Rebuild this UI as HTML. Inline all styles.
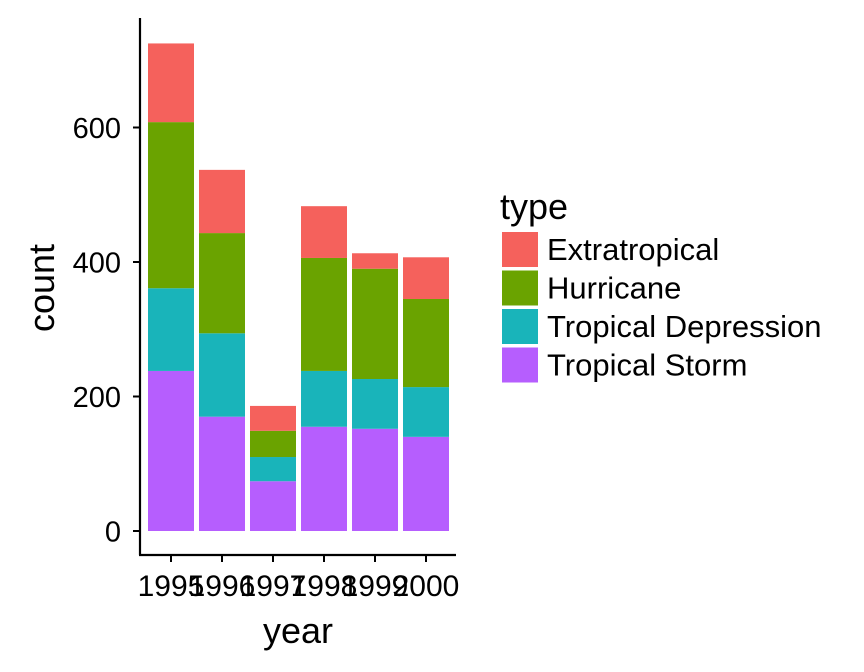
<!DOCTYPE html>
<html><head><meta charset="utf-8"><style>
body{margin:0;background:#fff}
svg{display:block;font-family:"Liberation Sans",Arial,sans-serif}
</style></head><body>
<svg id="chart" width="864" height="672" viewBox="0 0 864 672">
<g id="bars"></g>
<g id="axes"></g>
<g id="legend"></g>
</svg>
<script>
const years = ["1995","1996","1997","1998","1999","2000"];
const types = ["Extratropical","Hurricane","Tropical Depression","Tropical Storm"];
const colors = ["#F5615C","#6AA300","#19B4BA","#B65EFE"];
const stormVals = [238,170,74,155,152,140];
const depressionVals = [123,124,36,83,74,74];
const hurricaneVals = [247,149,39,168,164,131];
const extraVals = [117,94,37,77,23,62];
const yTicks = [0,200,400,600];

const NS="http://www.w3.org/2000/svg";
function mk(tag,attrs,parent,text){const e=document.createElementNS(NS,tag);for(const k in attrs)e.setAttribute(k,attrs[k]);if(text!==undefined)e.textContent=text;parent.appendChild(e);return e;}
const y0=531, pxPer=134.5/200;
const yScale=v=>y0-v*pxPer;
const bandStep=51, bandStart=171, barW=46;
const xScale=i=>bandStart+i*bandStep;

const bars=document.getElementById('bars');
const stackOrder=[[stormVals,3],[depressionVals,2],[hurricaneVals,1],[extraVals,0]];
years.forEach((yr,i)=>{
  let cum=0;
  stackOrder.forEach(([arr,ci])=>{
    const v=arr[i];
    const r=mk('rect',{x:xScale(i)-barW/2,y:yScale(cum+v),width:barW,height:v*pxPer,fill:colors[ci]},bars);
    
    
    cum+=v;
  });
});

const ax=document.getElementById('axes');
let l=mk('line',{x1:140,y1:18,x2:140,y2:555,stroke:'#000','stroke-width':2.2},ax);

l=mk('line',{x1:139,y1:555,x2:456,y2:555,stroke:'#000','stroke-width':2.2},ax);

yTicks.forEach(t=>{
  const y=yScale(t);
  mk('line',{x1:133,y1:y,x2:140,y2:y,stroke:'#000','stroke-width':2},ax);
  const tx=mk('text',{x:121,y:y+10.5,'text-anchor':'end','font-size':29,fill:'#000'},ax,String(t));
  
});
years.forEach((yr,i)=>{
  const x=xScale(i);
  mk('line',{x1:x,y1:555,x2:x,y2:562,stroke:'#000','stroke-width':2},ax);
  const tx=mk('text',{x:x,y:596,'text-anchor':'middle','font-size':30,fill:'#000'},ax,yr);
  
});
let t=mk('text',{x:298,y:643,'text-anchor':'middle','font-size':36,fill:'#000'},ax,'year');

t=mk('text',{x:0,y:0,'text-anchor':'middle','font-size':36,fill:'#000',transform:'translate(54,288) rotate(-90)'},ax,'count');


const lg=document.getElementById('legend');
t=mk('text',{x:500,y:219,'font-size':36,fill:'#000'},lg,'type');

types.forEach((ty,i)=>{
  const y=232+i*38.5;
  const r=mk('rect',{x:502,y:y,width:36,height:35,fill:colors[i]},lg);
  
  const tx=mk('text',{x:547,y:y+28,'font-size':31,fill:'#000'},lg,ty);
  
});
</script>
</body></html>
